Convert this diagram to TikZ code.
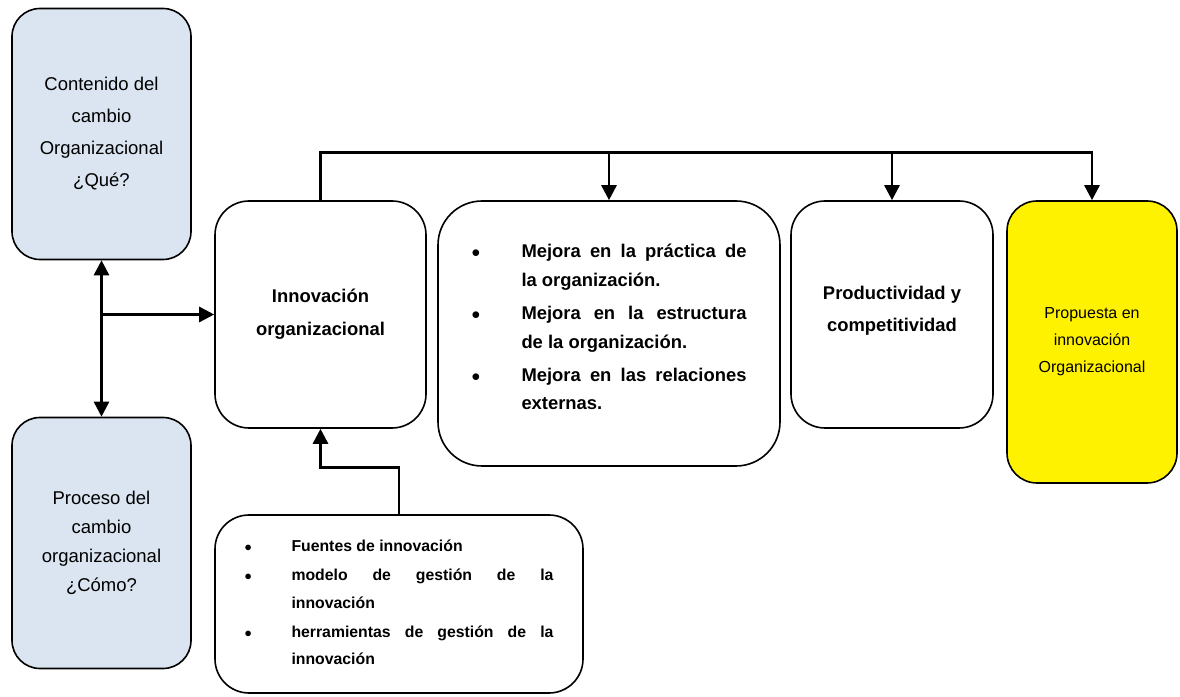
\documentclass[tikz,border=0pt]{standalone}
\usepackage{fontspec}
\setmainfont{Liberation Sans}
\usetikzlibrary{arrows.meta,positioning,calc}
\definecolor{boxblue}{RGB}{219,229,241}
\tikzset{
    block/.style = {draw, rectangle, rounded corners=34pt,
        line width=1.6pt, inner sep=0pt, align=center},
    bluebox/.style = {block, fill=boxblue, rounded corners=28pt,
        minimum width=179pt, minimum height=251pt},
    boldbox/.style = {block, minimum height=227pt,
        font=\fontsize{18.4}{33}\selectfont\bfseries},
    listbox/.style = {block, align=justify},
    conn/.style = {draw, line width=2.7pt}
}
\newcommand{\bitem}[2][0pt]{\par\vspace{#1}\noindent\hangindent=#2\hangafter=1\makebox[#2][l]{$\bullet$}}

\begin{document}
\begin{tikzpicture}[x=1pt, y=1pt, >={Triangle[length=15pt,width=15pt]}]
    \useasboundingbox (0,0) rectangle (1180,696);
    \node [bluebox, font=\fontsize{18.5}{32}\selectfont] (contenido) at (101.5,562)
        {Contenido del\\cambio\\Organizacional\\¿Qué?};
    \node [bluebox, font=\fontsize{18.5}{29}\selectfont] (proceso) at (101.5,153)
        {Proceso del\\cambio\\organizacional\\¿Cómo?};
    \node [boldbox, minimum width=211pt] (innov) at (320.5,381.5) {Innovación\\organizacional};
    \node [listbox, rounded corners=44pt, minimum width=342pt, minimum height=265pt, text width=275pt,
        font=\fontsize{18.4}{28.7}\selectfont\bfseries] (mejora) at (609,362.5)
        {\bitem{50pt}Mejora en la práctica de\linebreak la organización.%
         \bitem[4.3pt]{50pt}Mejora en la estructura\linebreak de la organización.%
         \bitem[4.3pt]{50pt}Mejora en las relaciones\linebreak externas.\rule[-28pt]{0pt}{1pt}\par};
    \node [boldbox, minimum width=202pt, font=\fontsize{18.4}{32}\selectfont\bfseries] (prod) at (892,381.5)
        {Productividad y\\competitividad\rule[-12pt]{0pt}{1pt}};
    \node [block, fill=yellow, rounded corners=30pt, minimum width=170pt, minimum height=282pt,
        font=\fontsize{16}{27}\selectfont] (propuesta) at (1092,354)
        {Propuesta en\\innovación\\Organizacional};
    \node [listbox, minimum width=368pt, minimum height=178pt, text width=309pt,
        font=\fontsize{15.8}{27.5}\selectfont\bfseries] (fuentes) at (399,92)
        {\bitem{47pt}Fuentes de innovación%
         \bitem[1.5pt]{47pt}modelo de gestión de la\linebreak innovación%
         \bitem[1.5pt]{47pt}herramientas de gestión de la\linebreak innovación\rule[-19pt]{0pt}{1pt}\par};
    % connectors
    \draw [conn,<->] (contenido.south) -- (proceso.north);
    \draw [conn,->] (contenido.south |- innov.west) -- (innov.west);
    \draw [conn,->] (innov.north) -- ++(0,48) coordinate (bus) -| (propuesta.north);
    \draw [conn,->] (bus -| mejora.north) -- (mejora.north);
    \draw [conn,->] (bus -| prod.north) -- (prod.north);
    \draw [conn,->] (fuentes.north) -- ++(0,47) -| (innov.south);
\end{tikzpicture}
\end{document}
